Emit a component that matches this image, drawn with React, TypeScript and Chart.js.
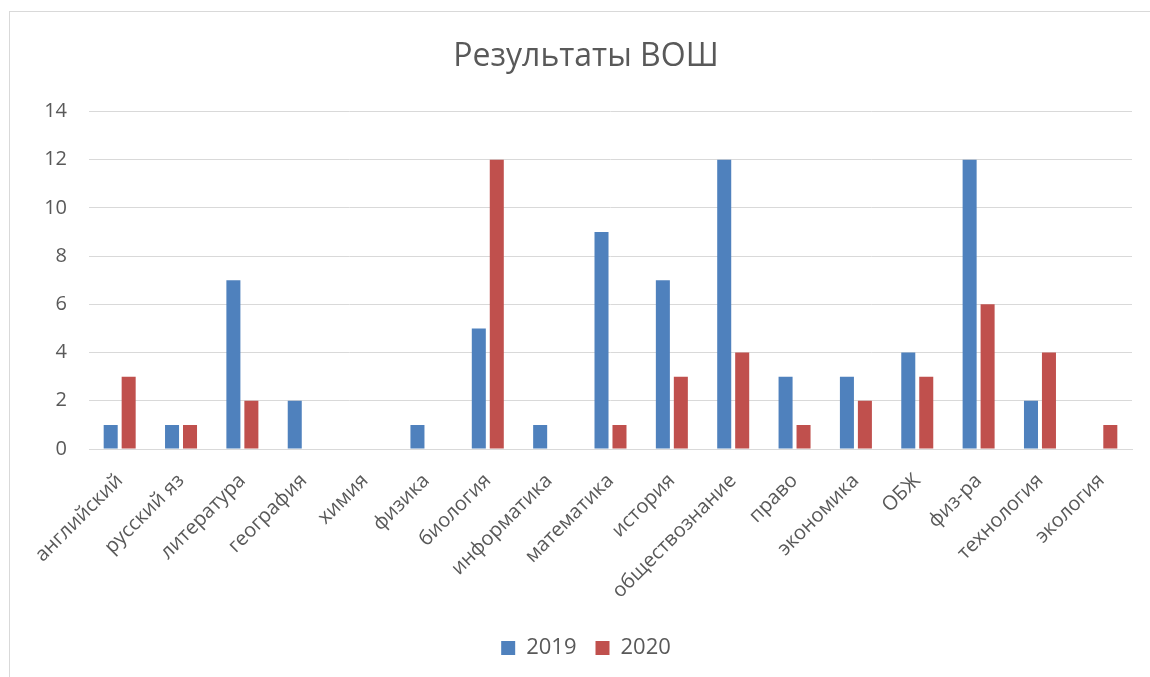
import React, { useEffect, useRef } from "react";
import { Chart, registerables } from "chart.js";

Chart.register(...registerables);

const categories = [
  "английский", "русский яз", "литература", "география", "химия", "физика",
  "биология", "информатика", "математика", "история", "обществознание",
  "право", "экономика", "ОБЖ", "физ-ра", "технология", "экология",
];
const values2019 = [1, 1, 7, 2, 0, 1, 5, 1, 9, 7, 12, 3, 3, 4, 12, 2, 0];
const values2020 = [3, 1, 2, 0, 0, 0, 12, 0, 1, 3, 4, 1, 2, 3, 6, 4, 1];
const seriesNames = ["2019", "2020"];
const titleText = "Результаты ВОШ";

const FONT = "'Open Sans', 'Liberation Sans', sans-serif";
const TEXT = "#595959";

export default function App() {
  const ref = useRef<HTMLCanvasElement | null>(null);

  useEffect(() => {
    if (!ref.current) return;
    const chart = new Chart(ref.current, {
      type: "bar",
      data: {
        labels: categories,
        datasets: [
          {
            label: seriesNames[0],
            data: values2019,
            backgroundColor: "#4F81BD",
            categoryPercentage: 0.586,
            barPercentage: 0.78,
          },
          {
            label: seriesNames[1],
            data: values2020,
            backgroundColor: "#C0504D",
            categoryPercentage: 0.586,
            barPercentage: 0.78,
          },
        ],
      },
      options: {
        responsive: false,
        animation: false,
        layout: { padding: { left: 30, right: 18, top: 0, bottom: 8 } },
        plugins: {
          title: {
            display: true,
            text: titleText,
            color: TEXT,
            font: { family: FONT, size: 32, weight: "normal" },
            padding: { top: 26, bottom: 35 },
          },
          legend: {
            position: "bottom",
            labels: {
              color: TEXT,
              font: { family: FONT, size: 22 },
              boxWidth: 14,
              boxHeight: 14,
              padding: 19,
            },
          },
          tooltip: { enabled: false },
        },
        scales: {
          x: {
            grid: { display: false, drawTicks: false },
            border: { display: true, color: "#D9D9D9" },
            ticks: {
              color: TEXT,
              font: { family: FONT, size: 20 },
              maxRotation: 45,
              minRotation: 45,
              padding: 20,
              autoSkip: false,
            },
            afterFit: (s: any) => {
              s.height = 169;
            },
          },
          y: {
            min: 0,
            max: 14,
            ticks: {
              stepSize: 2,
              color: TEXT,
              font: { family: FONT, size: 20 },
              padding: 22,
            },
            grid: { color: "#D9D9D9", drawTicks: false },
            border: { display: false },
            afterFit: (s: any) => {
              s.width = 49;
            },
          },
        },
      },
    });
    return () => chart.destroy();
  }, []);

  return (
    <div style={{ position: "fixed", left: 0, top: 0, width: 1150, height: 677, overflow: "hidden", background: "#fff" }}>
      <div
        style={{
          position: "absolute",
          left: 9,
          top: 11,
          width: 1160,
          height: 700,
          borderTop: "1px solid #D9D9D9",
          borderLeft: "1px solid #D9D9D9",
        }}
      >
        <canvas ref={ref} width={1140} height={665} style={{ display: "block" }} />
      </div>
    </div>
  );
}
